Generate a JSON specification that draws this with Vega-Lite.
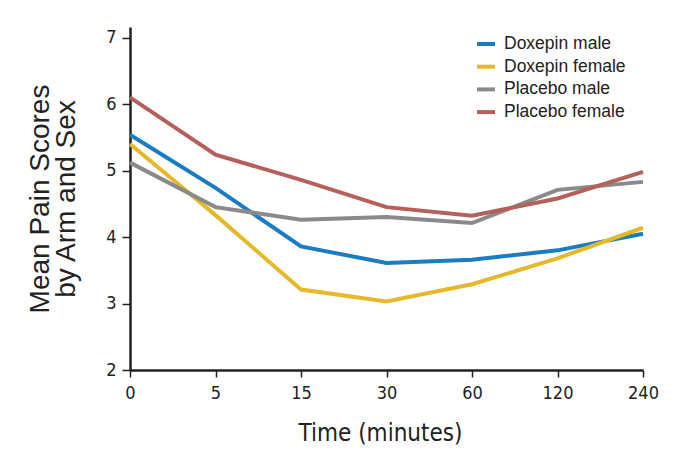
{
  "$schema": "https://vega.github.io/schema/vega-lite/v6.json",
  "autosize": "none",
  "width": 523,
  "height": 343,
  "padding": {"left": 130, "top": 27, "right": 39, "bottom": 95},
  "background": "white",
  "config": {"view": {"stroke": null}},
  "data": {"values": [
    {"time": "0", "group": "Doxepin male", "score": 5.54},
    {"time": "5", "group": "Doxepin male", "score": 4.74},
    {"time": "15", "group": "Doxepin male", "score": 3.86},
    {"time": "30", "group": "Doxepin male", "score": 3.61},
    {"time": "60", "group": "Doxepin male", "score": 3.66},
    {"time": "120", "group": "Doxepin male", "score": 3.80},
    {"time": "240", "group": "Doxepin male", "score": 4.05},
    {"time": "0", "group": "Doxepin female", "score": 5.40},
    {"time": "5", "group": "Doxepin female", "score": 4.33},
    {"time": "15", "group": "Doxepin female", "score": 3.21},
    {"time": "30", "group": "Doxepin female", "score": 3.03},
    {"time": "60", "group": "Doxepin female", "score": 3.29},
    {"time": "120", "group": "Doxepin female", "score": 3.68},
    {"time": "240", "group": "Doxepin female", "score": 4.14},
    {"time": "0", "group": "Placebo male", "score": 5.12},
    {"time": "5", "group": "Placebo male", "score": 4.45},
    {"time": "15", "group": "Placebo male", "score": 4.26},
    {"time": "30", "group": "Placebo male", "score": 4.30},
    {"time": "60", "group": "Placebo male", "score": 4.21},
    {"time": "120", "group": "Placebo male", "score": 4.71},
    {"time": "240", "group": "Placebo male", "score": 4.83},
    {"time": "0", "group": "Placebo female", "score": 6.10},
    {"time": "5", "group": "Placebo female", "score": 5.24},
    {"time": "15", "group": "Placebo female", "score": 4.86},
    {"time": "30", "group": "Placebo female", "score": 4.45},
    {"time": "60", "group": "Placebo female", "score": 4.32},
    {"time": "120", "group": "Placebo female", "score": 4.58},
    {"time": "240", "group": "Placebo female", "score": 4.98}
  ]},
  "mark": {"type": "line", "strokeWidth": 4, "strokeJoin": "miter"},
  "encoding": {
    "x": {
      "field": "time", "type": "ordinal",
      "sort": ["0", "5", "15", "30", "60", "120", "240"],
      "scale": {"type": "point", "range": [0, 513], "padding": 0},
      "axis": {
        "title": "Time (minutes)", "titleX": 250,
        "titleFont": "DejaVu Sans Condensed, Roboto, sans-serif", "titleFontSize": 24, "titleFontWeight": "normal", "titleColor": "#222",
        "titlePadding": 19,
        "labelFont": "DejaVu Sans Condensed, Roboto, sans-serif", "labelFontSize": 18, "labelColor": "#222", "labelAngle": 0, "labelPadding": 7,
        "domainColor": "#222", "domainWidth": 2.5, "tickColor": "#222", "tickWidth": 1.5, "tickSize": 7,
        "grid": false
      }
    },
    "y": {
      "field": "score", "type": "quantitative",
      "scale": {"domain": [2, 7.16], "nice": false, "zero": false},
      "axis": {
        "title": ["Mean Pain Scores", "by Arm and Sex"],
        "titleFont": "Liberation Sans", "titleFontSize": 28, "titleFontWeight": "normal", "titleColor": "#222",
        "titleLineHeight": 26, "titlePadding": 25,
        "values": [2, 3, 4, 5, 6, 7],
        "labelFont": "DejaVu Sans Condensed, Roboto, sans-serif", "labelFontSize": 18, "labelColor": "#222", "labelPadding": 6,
        "domainColor": "#222", "domainWidth": 2.5, "tickColor": "#222", "tickWidth": 1.5, "tickSize": 8,
        "grid": false
      }
    },
    "color": {
      "field": "group", "type": "nominal",
      "sort": ["Doxepin male", "Doxepin female", "Placebo male", "Placebo female"],
      "scale": {
        "domain": ["Doxepin male", "Doxepin female", "Placebo male", "Placebo female"],
        "range": ["#1a7dc4", "#e6b92a", "#8a8a8a", "#b5605b"]
      },
      "legend": {
        "title": null, "orient": "none", "legendX": 345, "legendY": 6, "padding": 0,
        "symbolType": "stroke", "symbolSize": 324, "symbolStrokeWidth": 4,
        "labelFont": "Liberation Sans", "labelFontSize": 17.5, "labelColor": "#222", "labelOffset": 7,
        "rowPadding": 2.7
      }
    }
  }
}
